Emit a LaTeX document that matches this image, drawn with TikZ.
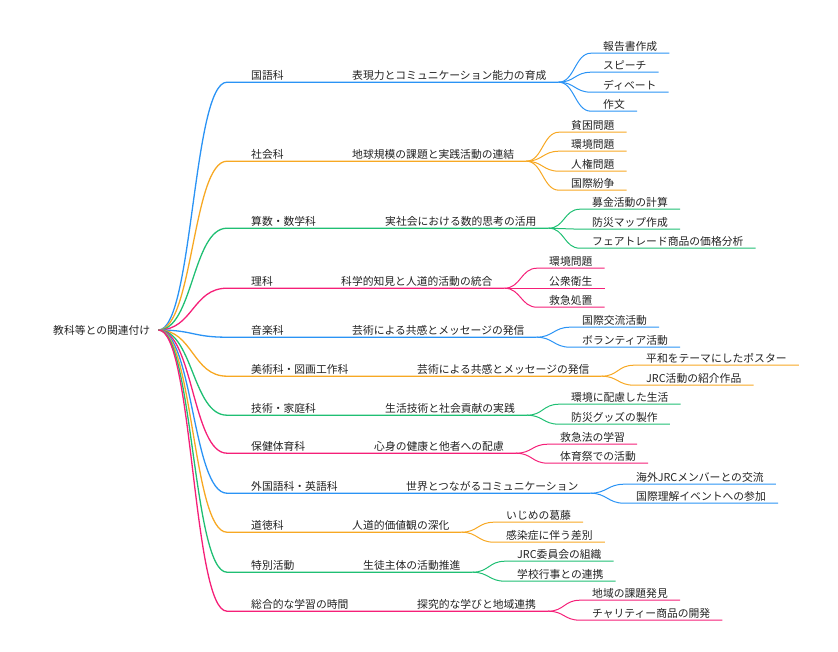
\documentclass[tikz,border=0pt]{standalone}
\usepackage{fontspec}
\setmainfont{Noto Sans CJK JP}
\usepackage{xcolor}
\definecolor{mmblue}{HTML}{2A93F5}
\definecolor{mmorange}{HTML}{F7A823}
\definecolor{mmgreen}{HTML}{1FBF73}
\definecolor{mmpink}{HTML}{F51F78}
\definecolor{mmtext}{HTML}{222222}

\begin{document}
\begin{tikzpicture}[x=1pt,y=-1pt]
    \tikzstyle{T}=[font=\fontsize{10.8}{13}\selectfont,text=mmtext,anchor=west,inner xsep=0pt,inner ysep=1pt,text height=10pt,text depth=2pt]
    \tikzstyle{R}=[T]
    \tikzstyle{K}=[T]
    \tikzstyle{S}=[T]
    \tikzstyle{L}=[T]
    \tikzstyle{B}=[draw=mmblue,line width=1pt]
    \tikzstyle{O}=[draw=mmorange,line width=1pt]
    \tikzstyle{G}=[draw=mmgreen,line width=1pt]
    \tikzstyle{P}=[draw=mmpink,line width=1pt]

    \useasboundingbox (0,0) rectangle (838,651);

    % Wurzel
    \node [R] (root) at (53,330) {教科等との関連付け};

    % 国語科
    \node [K] (k1) at (251,75) {国語科};
    \node [S] (s1) at (352,75) {表現力とコミュニケーション能力の育成};
    \node [L] (l1a) at (603,46) {報告書作成};
    \node [L] (l1b) at (603,65) {スピーチ};
    \node [L] (l1c) at (603,85) {ディベート};
    \node [L] (l1d) at (603,104) {作文};

    % 社会科
    \node [K] (k2) at (251,154) {社会科};
    \node [S] (s2) at (352,154) {地球規模の課題と実践活動の連結};
    \node [L] (l2a) at (571,125) {貧困問題};
    \node [L] (l2b) at (571,144) {環境問題};
    \node [L] (l2c) at (571,164) {人権問題};
    \node [L] (l2d) at (571,183) {国際紛争};

    % 算数・数学科
    \node [K] (k3) at (251,221) {算数・数学科};
    \node [S] (s3) at (385,221) {実社会における数的思考の活用};
    \node [L] (l3a) at (592,202) {募金活動の計算};
    \node [L] (l3b) at (592,222) {防災マップ作成};
    \node [L] (l3c) at (592,241) {フェアトレード商品の価格分析};

    % 理科
    \node [K] (k4) at (251,281) {理科};
    \node [S] (s4) at (341,281) {科学的知見と人道的活動の統合};
    \node [L] (l4a) at (549,261) {環境問題};
    \node [L] (l4b) at (549,281) {公衆衛生};
    \node [L] (l4c) at (549,300) {救急処置};

    % 音楽科
    \node [K] (k5) at (251,330) {音楽科};
    \node [S] (s5) at (352,330) {芸術による共感とメッセージの発信};
    \node [L] (l5a) at (582,320) {国際交流活動};
    \node [L] (l5b) at (582,340) {ボランティア活動};

    % 美術科・図画工作科
    \node [K] (k6) at (251,369) {美術科・図画工作科};
    \node [S] (s6) at (417,369) {芸術による共感とメッセージの発信};
    \node [L] (l6a) at (646,358) {平和をテーマにしたポスター};
    \node [L] (l6b) at (646,378) {JRC活動の紹介作品};

    % 技術・家庭科
    \node [K] (k7) at (251,408) {技術・家庭科};
    \node [S] (s7) at (385,408) {生活技術と社会貢献の実践};
    \node [L] (l7a) at (571,397) {環境に配慮した生活};
    \node [L] (l7b) at (571,417) {防災グッズの製作};

    % 保健体育科
    \node [K] (k8) at (251,446) {保健体育科};
    \node [S] (s8) at (374,446) {心身の健康と他者への配慮};
    \node [L] (l8a) at (560,437) {救急法の学習};
    \node [L] (l8b) at (560,456) {体育祭での活動};

    % 外国語科・英語科
    \node [K] (k9) at (251,486) {外国語科・英語科};
    \node [S] (s9) at (406,486) {世界とつながるコミュニケーション};
    \node [L] (l9a) at (636,477) {海外JRCメンバーとの交流};
    \node [L] (l9b) at (636,496) {国際理解イベントへの参加};

    % 道徳科
    \node [K] (k10) at (251,525) {道徳科};
    \node [S] (s10) at (352,525) {人道的価値観の深化};
    \node [L] (l10a) at (506,515) {いじめの葛藤};
    \node [L] (l10b) at (506,535) {感染症に伴う差別};

    % 特別活動
    \node [K] (k11) at (251,565) {特別活動};
    \node [S] (s11) at (363,565) {生徒主体の活動推進};
    \node [L] (l11a) at (517,554) {JRC委員会の組織};
    \node [L] (l11b) at (517,574) {学校行事との連携};

    % 総合的な学習の時間
    \node [K] (k12) at (251,604) {総合的な学習の時間};
    \node [S] (s12) at (417,604) {探究的な学びと地域連携};
    \node [L] (l12a) at (592,593) {地域の課題発見};
    \node [L] (l12b) at (592,613) {チャリティー商品の開発};

    % Wurzel -> Fach -> Thema
    \draw [B,line width=1.3pt] ([xshift=8pt]root.east) .. controls +(34.5,0) and +(-34.5,0) .. ([xshift=-24pt]k1.south west) -- ([xshift=12pt]s1.south east);
    \draw [O,line width=1.3pt] ([xshift=8pt]root.east) .. controls +(34.5,0) and +(-34.5,0) .. ([xshift=-24pt]k2.south west) -- ([xshift=12pt]s2.south east);
    \draw [G,line width=1.3pt] ([xshift=8pt]root.east) .. controls +(34.5,0) and +(-34.5,0) .. ([xshift=-24pt]k3.south west) -- ([xshift=12pt]s3.south east);
    \draw [P,line width=1.3pt] ([xshift=8pt]root.east) .. controls +(34.5,0) and +(-34.5,0) .. ([xshift=-24pt]k4.south west) -- ([xshift=12pt]s4.south east);
    \draw [B,line width=1.3pt] ([xshift=8pt]root.east) .. controls +(34.5,0) and +(-34.5,0) .. ([xshift=-24pt]k5.south west) -- ([xshift=12pt]s5.south east);
    \draw [O,line width=1.3pt] ([xshift=8pt]root.east) .. controls +(34.5,0) and +(-34.5,0) .. ([xshift=-24pt]k6.south west) -- ([xshift=12pt]s6.south east);
    \draw [G,line width=1.3pt] ([xshift=8pt]root.east) .. controls +(34.5,0) and +(-34.5,0) .. ([xshift=-24pt]k7.south west) -- ([xshift=12pt]s7.south east);
    \draw [P,line width=1.3pt] ([xshift=8pt]root.east) .. controls +(34.5,0) and +(-34.5,0) .. ([xshift=-24pt]k8.south west) -- ([xshift=12pt]s8.south east);
    \draw [B,line width=1.3pt] ([xshift=8pt]root.east) .. controls +(34.5,0) and +(-34.5,0) .. ([xshift=-24pt]k9.south west) -- ([xshift=12pt]s9.south east);
    \draw [O,line width=1.3pt] ([xshift=8pt]root.east) .. controls +(34.5,0) and +(-34.5,0) .. ([xshift=-24pt]k10.south west) -- ([xshift=12pt]s10.south east);
    \draw [G,line width=1.3pt] ([xshift=8pt]root.east) .. controls +(34.5,0) and +(-34.5,0) .. ([xshift=-24pt]k11.south west) -- ([xshift=12pt]s11.south east);
    \draw [P,line width=1.3pt] ([xshift=8pt]root.east) .. controls +(34.5,0) and +(-34.5,0) .. ([xshift=-24pt]k12.south west) -- ([xshift=12pt]s12.south east);

    % Thema -> Beispiele
    \draw [B] ([xshift=12pt]s1.south east) .. controls +(16,0) and +(-16,0) .. ([xshift=-12pt]l1a.south west) -- ([xshift=12pt]l1a.south east);
    \draw [B] ([xshift=12pt]s1.south east) .. controls +(16,0) and +(-16,0) .. ([xshift=-12pt]l1b.south west) -- ([xshift=12pt]l1b.south east);
    \draw [B] ([xshift=12pt]s1.south east) .. controls +(16,0) and +(-16,0) .. ([xshift=-12pt]l1c.south west) -- ([xshift=12pt]l1c.south east);
    \draw [B] ([xshift=12pt]s1.south east) .. controls +(16,0) and +(-16,0) .. ([xshift=-12pt]l1d.south west) -- ([xshift=12pt]l1d.south east);

    \draw [O] ([xshift=12pt]s2.south east) .. controls +(16,0) and +(-16,0) .. ([xshift=-12pt]l2a.south west) -- ([xshift=12pt]l2a.south east);
    \draw [O] ([xshift=12pt]s2.south east) .. controls +(16,0) and +(-16,0) .. ([xshift=-12pt]l2b.south west) -- ([xshift=12pt]l2b.south east);
    \draw [O] ([xshift=12pt]s2.south east) .. controls +(16,0) and +(-16,0) .. ([xshift=-12pt]l2c.south west) -- ([xshift=12pt]l2c.south east);
    \draw [O] ([xshift=12pt]s2.south east) .. controls +(16,0) and +(-16,0) .. ([xshift=-12pt]l2d.south west) -- ([xshift=12pt]l2d.south east);

    \draw [G] ([xshift=12pt]s3.south east) .. controls +(16,0) and +(-16,0) .. ([xshift=-12pt]l3a.south west) -- ([xshift=12pt]l3a.south east);
    \draw [G] ([xshift=12pt]s3.south east) .. controls +(16,0) and +(-16,0) .. ([xshift=-12pt]l3b.south west) -- ([xshift=12pt]l3b.south east);
    \draw [G] ([xshift=12pt]s3.south east) .. controls +(16,0) and +(-16,0) .. ([xshift=-12pt]l3c.south west) -- ([xshift=12pt]l3c.south east);

    \draw [P] ([xshift=12pt]s4.south east) .. controls +(16,0) and +(-16,0) .. ([xshift=-12pt]l4a.south west) -- ([xshift=12pt]l4a.south east);
    \draw [P] ([xshift=12pt]s4.south east) .. controls +(16,0) and +(-16,0) .. ([xshift=-12pt]l4b.south west) -- ([xshift=12pt]l4b.south east);
    \draw [P] ([xshift=12pt]s4.south east) .. controls +(16,0) and +(-16,0) .. ([xshift=-12pt]l4c.south west) -- ([xshift=12pt]l4c.south east);

    \draw [B] ([xshift=12pt]s5.south east) .. controls +(16,0) and +(-16,0) .. ([xshift=-12pt]l5a.south west) -- ([xshift=12pt]l5a.south east);
    \draw [B] ([xshift=12pt]s5.south east) .. controls +(16,0) and +(-16,0) .. ([xshift=-12pt]l5b.south west) -- ([xshift=12pt]l5b.south east);

    \draw [O] ([xshift=12pt]s6.south east) .. controls +(16,0) and +(-16,0) .. ([xshift=-12pt]l6a.south west) -- ([xshift=12pt]l6a.south east);
    \draw [O] ([xshift=12pt]s6.south east) .. controls +(16,0) and +(-16,0) .. ([xshift=-12pt]l6b.south west) -- ([xshift=12pt]l6b.south east);

    \draw [G] ([xshift=12pt]s7.south east) .. controls +(16,0) and +(-16,0) .. ([xshift=-12pt]l7a.south west) -- ([xshift=12pt]l7a.south east);
    \draw [G] ([xshift=12pt]s7.south east) .. controls +(16,0) and +(-16,0) .. ([xshift=-12pt]l7b.south west) -- ([xshift=12pt]l7b.south east);

    \draw [P] ([xshift=12pt]s8.south east) .. controls +(16,0) and +(-16,0) .. ([xshift=-12pt]l8a.south west) -- ([xshift=12pt]l8a.south east);
    \draw [P] ([xshift=12pt]s8.south east) .. controls +(16,0) and +(-16,0) .. ([xshift=-12pt]l8b.south west) -- ([xshift=12pt]l8b.south east);

    \draw [B] ([xshift=12pt]s9.south east) .. controls +(16,0) and +(-16,0) .. ([xshift=-12pt]l9a.south west) -- ([xshift=12pt]l9a.south east);
    \draw [B] ([xshift=12pt]s9.south east) .. controls +(16,0) and +(-16,0) .. ([xshift=-12pt]l9b.south west) -- ([xshift=12pt]l9b.south east);

    \draw [O] ([xshift=12pt]s10.south east) .. controls +(16,0) and +(-16,0) .. ([xshift=-12pt]l10a.south west) -- ([xshift=12pt]l10a.south east);
    \draw [O] ([xshift=12pt]s10.south east) .. controls +(16,0) and +(-16,0) .. ([xshift=-12pt]l10b.south west) -- ([xshift=12pt]l10b.south east);

    \draw [G] ([xshift=12pt]s11.south east) .. controls +(16,0) and +(-16,0) .. ([xshift=-12pt]l11a.south west) -- ([xshift=12pt]l11a.south east);
    \draw [G] ([xshift=12pt]s11.south east) .. controls +(16,0) and +(-16,0) .. ([xshift=-12pt]l11b.south west) -- ([xshift=12pt]l11b.south east);

    \draw [P] ([xshift=12pt]s12.south east) .. controls +(16,0) and +(-16,0) .. ([xshift=-12pt]l12a.south west) -- ([xshift=12pt]l12a.south east);
    \draw [P] ([xshift=12pt]s12.south east) .. controls +(16,0) and +(-16,0) .. ([xshift=-12pt]l12b.south west) -- ([xshift=12pt]l12b.south east);
\end{tikzpicture}
\end{document}
